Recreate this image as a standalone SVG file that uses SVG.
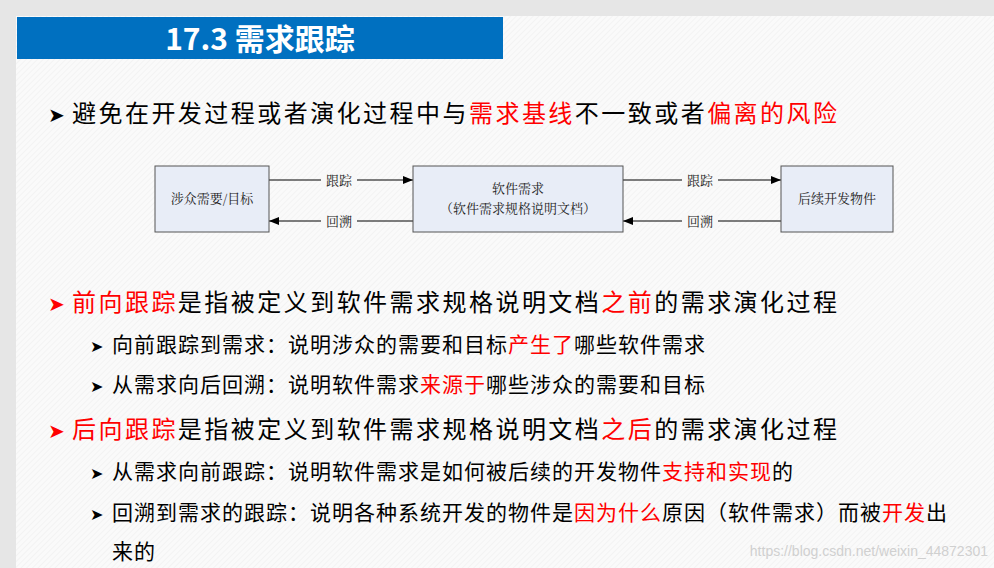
<svg xmlns="http://www.w3.org/2000/svg" width="994" height="568" viewBox="0 0 994 568">
<defs>
<pattern id="h" width="4" height="4" patternUnits="userSpaceOnUse" patternTransform="rotate(45)"><rect width="4" height="4" fill="#fafafa"/><line x1="0" y1="0" x2="0" y2="4" stroke="#ececec" stroke-width="1"/></pattern>
<marker id="a" markerWidth="10" markerHeight="8" refX="10" refY="4" orient="auto" markerUnits="userSpaceOnUse"><path d="M0,0 L10,4 L0,8 Z" fill="#000"/></marker>
<style>
.t{font-family:"Noto Sans CJK SC","Microsoft YaHei",sans-serif;fill:#000}
.r{fill:#ff0000}
.b{fill:#e8edf7;stroke:#555;stroke-width:1}
.n{font-family:"Noto Serif CJK SC","Noto Sans CJK SC",serif;font-size:13px;fill:#222}
.l{stroke:#000;stroke-width:1;fill:none}
</style>
</defs>
<rect width="994" height="568" fill="#e6e6e6"/>
<rect x="16" y="16" width="978" height="552" fill="url(#h)"/>
<rect x="17" y="17" width="486" height="42" fill="#0070c0"/>
<text x="260" y="50" text-anchor="middle" class="t" font-size="30" font-weight="bold" style="fill:#fff">17.3 需求跟踪</text>
<text x="48" y="122" class="t" font-size="20">➤</text>
<text x="72" y="122" class="t" font-size="24" textLength="765" lengthAdjust="spacing">避免在开发过程或者演化过程中与<tspan class="r">需求基线</tspan>不一致或者<tspan class="r">偏离的风险</tspan></text>
<g id="connectors">
<line x1="269" y1="180" x2="413" y2="180" class="l" marker-end="url(#a)"/>
<line x1="413" y1="221" x2="269" y2="221" class="l" marker-end="url(#a)"/>
<line x1="623" y1="180" x2="781" y2="180" class="l" marker-end="url(#a)"/>
<line x1="781" y1="221" x2="623" y2="221" class="l" marker-end="url(#a)"/>
<rect x="321" y="172" width="36" height="16" fill="#f8f8f8"/><text x="339" y="185" text-anchor="middle" class="n">跟踪</text>
<rect x="321" y="213" width="36" height="16" fill="#f8f8f8"/><text x="339" y="226" text-anchor="middle" class="n">回溯</text>
<rect x="682" y="172" width="36" height="16" fill="#f8f8f8"/><text x="700" y="185" text-anchor="middle" class="n">跟踪</text>
<rect x="682" y="213" width="36" height="16" fill="#f8f8f8"/><text x="700" y="226" text-anchor="middle" class="n">回溯</text>
</g>
<g id="n1"><rect x="155" y="166" width="114" height="66" class="b"/><text x="212" y="203" text-anchor="middle" class="n">涉众需要/目标</text></g>
<g id="n2"><rect x="413" y="166" width="210" height="66" class="b"/><text x="518" y="193" text-anchor="middle" class="n">软件需求</text><text x="518" y="213" text-anchor="middle" class="n">（软件需求规格说明文档）</text></g>
<g id="n3"><rect x="781" y="166" width="112" height="66" class="b"/><text x="837" y="203" text-anchor="middle" class="n">后续开发物件</text></g>
<text x="48" y="311" class="t r" font-size="20">➤</text>
<text x="72" y="311" class="t" font-size="24" textLength="765" lengthAdjust="spacing"><tspan class="r">前向跟踪</tspan>是指被定义到软件需求规格说明文档<tspan class="r">之前</tspan>的需求演化过程</text>
<text x="90" y="352" class="t" font-size="16">➤</text>
<text x="112" y="352" class="t" font-size="21" textLength="593" lengthAdjust="spacing">向前跟踪到需求：说明涉众的需要和目标<tspan class="r">产生了</tspan>哪些软件需求</text>
<text x="90" y="392" class="t" font-size="16">➤</text>
<text x="112" y="392" class="t" font-size="21" textLength="593" lengthAdjust="spacing">从需求向后回溯：说明软件需求<tspan class="r">来源于</tspan>哪些涉众的需要和目标</text>
<text x="48" y="438" class="t r" font-size="20">➤</text>
<text x="72" y="438" class="t" font-size="24" textLength="765" lengthAdjust="spacing"><tspan class="r">后向跟踪</tspan>是指被定义到软件需求规格说明文档<tspan class="r">之后</tspan>的需求演化过程</text>
<text x="90" y="479" class="t" font-size="16">➤</text>
<text x="112" y="479" class="t" font-size="21" textLength="681" lengthAdjust="spacing">从需求向前跟踪：说明软件需求是如何被后续的开发物件<tspan class="r">支持和实现</tspan>的</text>
<text x="90" y="520" class="t" font-size="16">➤</text>
<text x="112" y="520" class="t" font-size="21" textLength="835" lengthAdjust="spacing">回溯到需求的跟踪：说明各种系统开发的物件是<tspan class="r">因为什么</tspan>原因（软件需求）而被<tspan class="r">开发</tspan>出</text>
<text x="112" y="559" class="t" font-size="21" textLength="43" lengthAdjust="spacing">来的</text>
<text x="988" y="556" text-anchor="end" font-family="Liberation Sans,sans-serif" font-size="14" fill="#d0d0d0">https://blog.csdn.net/weixin_44872301</text>
</svg>
